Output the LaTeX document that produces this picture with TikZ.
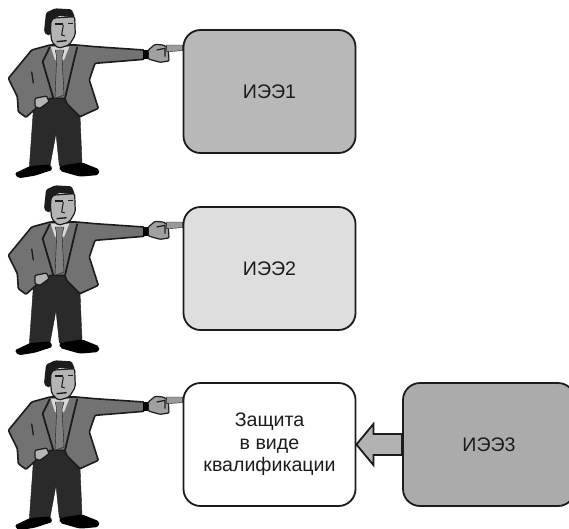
\documentclass[tikz,border=0pt]{standalone}
\usepackage{fontspec}
\setmainfont{Liberation Sans}
\usetikzlibrary{calc}
\definecolor{ink}{HTML}{1C1C1C}
\definecolor{jacket}{HTML}{727272}
\definecolor{skin}{HTML}{B4B4B4}
\definecolor{shirt}{HTML}{D8D8D8}
\definecolor{tie}{HTML}{808080}
\definecolor{trouser}{HTML}{2A2A2A}
\tikzset{
  card/.style={draw=ink,line width=1.8pt,rounded corners=17pt,minimum width=172pt,minimum height=123pt,inner sep=0pt,align=center,text=ink,font=\fontsize{19.6}{22.5}\selectfont},
  blockarrow/.style={draw=ink,line width=1.8pt,fill=black!30,line join=miter},
  man/.pic={
    \begin{scope}[xscale=1/3,yscale=1/3,line join=round]
    % trousers
    \fill[trouser,draw=ink] (100,330) -- (150,295) -- (200,295) -- (240,345) -- (246,490) -- (178,498) -- (168,400) -- (150,497) -- (88,502) -- cycle;
    % shoes
    \fill[black,rounded corners=2pt] (90,498) -- (152,493) -- (157,510) -- (105,527) -- (55,535) -- (44,520) -- cycle;
    \fill[black,rounded corners=2pt] (178,498) -- (246,487) -- (298,508) -- (296,525) -- (240,530) -- (180,513) -- cycle;
    % jacket
    \fill[jacket,draw=ink,line width=1.6pt,rounded corners=1pt] (25,235) -- (95,150) -- (150,135) -- (230,135) -- (285,140) -- (432,150) -- (432,178) -- (285,190) -- (268,240) -- (295,325) -- (240,350) -- (200,310) -- (195,295) -- (150,295) -- (108,325) -- (78,352) -- (55,335) -- (52,290) -- cycle;
    % shirt and tie
    \fill[shirt] (152,140) -- (208,140) -- (192,180) -- (165,180) -- cycle;
    \fill[tie,draw=ink] (166,150) -- (192,150) -- (186,172) -- (192,285) -- (165,295) -- (170,172) -- cycle;
    % lapels
    \draw[ink,line width=1.8pt] (150,140) -- (128,185) -- (160,295);
    \draw[ink,line width=1.8pt] (232,140) -- (222,180) -- (195,295);
    \draw[ink,line width=1.3pt] (95,215) -- (100,250);
    % hand at hip
    \fill[skin,draw=ink,line width=1.2pt,rounded corners=1pt] (105,295) -- (140,288) -- (147,305) -- (120,325) -- (105,320) -- cycle;
    % head
    \fill[skin,draw=ink,line width=1.2pt,rounded corners=2pt] (148,55) -- (224,50) -- (226,105) -- (208,135) -- (175,145) -- (155,125) -- cycle;
    \fill[ink,rounded corners=1.5pt] (132,95) -- (138,38) -- (165,25) -- (215,28) -- (225,52) -- (175,48) -- (155,62) -- (152,105) -- (140,105) -- cycle;
    \draw[ink,line width=1.4pt] (165,72) -- (190,72) (205,70) -- (220,70);
    \draw[ink,line width=1pt] (190,75) -- (185,105) -- (195,108);
    \draw[ink,line width=1.4pt] (170,125) -- (200,122);
    % cuff, hand, finger
    \fill[black] (430,150) -- (445,150) -- (445,178) -- (430,178) -- cycle;
    \fill[skin!70!jacket,draw=ink,line width=1.2pt,rounded corners=1pt] (445,150) -- (465,133) -- (490,135) -- (505,145) -- (507,183) -- (480,187) -- (445,177) -- cycle;
    \fill[skin!60!jacket,draw=ink,line width=.4pt] (500,135) -- (548,135) -- (548,152) -- (500,155) -- cycle;
    \draw[ink,line width=1.2pt] (470,150) -- (495,145) -- (495,170);
    \end{scope}
  }
}
\begin{document}
\begin{tikzpicture}[x=1pt,y=-1pt]
\useasboundingbox (0,0) rectangle (569,528);
\fill[white] (0,0) rectangle (569,528);
\pic at (0,0) {man};
\pic at (0,177) {man};
\pic at (0,352) {man};
\node[card,fill=black!28] (iee1) at (269.5,91.5) {ИЭЭ1};
\node[card,fill=black!13] (iee2) at (269.5,268.5) {ИЭЭ2};
\node[card,fill=white] (prot) at (269.5,444.5) {Защита\\в виде\\квалификации};
\node[card,fill=black!33] (iee3) at (489,444.5) {ИЭЭ3};
\draw[blockarrow] (prot.east) -- ($(prot.east)+(17,-20.5)$) -- ($(prot.east)+(17,-10.5)$) -- ($(iee3.west)+(0,-10.5)$) -- ($(iee3.west)+(0,10.5)$) -- ($(prot.east)+(17,10.5)$) -- ($(prot.east)+(17,20.5)$) -- cycle;
\end{tikzpicture}
\end{document}
